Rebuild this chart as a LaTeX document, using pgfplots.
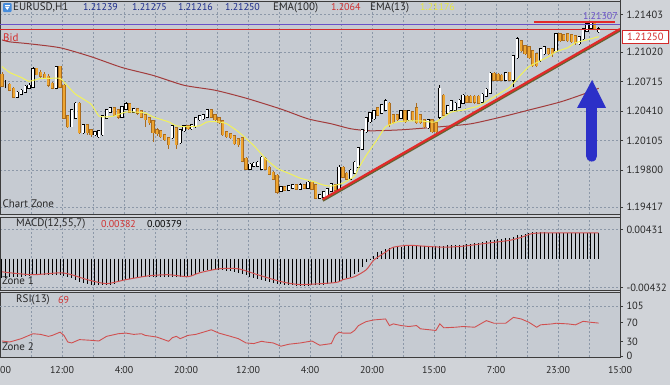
\documentclass[border=0pt]{standalone}
\usepackage{fontspec}
\setmainfont{PT Sans}
\usepackage{pgfplots}
\usepackage{pgfplotstable}
\pgfplotsset{compat=1.18}

\definecolor{bgc}{RGB}{198,203,210}
\definecolor{outerc}{RGB}{208,211,216}
\definecolor{gridc}{RGB}{140,152,168}
\definecolor{framec}{RGB}{60,60,60}
\definecolor{labelc}{RGB}{40,40,40}
\definecolor{orangeb}{RGB}{238,166,50}
\definecolor{orangeo}{RGB}{170,108,30}
\definecolor{emay}{RGB}{242,242,90}
\definecolor{emar}{RGB}{162,60,60}
\definecolor{bidred}{RGB}{212,42,42}
\definecolor{purp}{RGB}{106,82,200}
\definecolor{trendred}{RGB}{226,42,42}
\definecolor{olive}{RGB}{100,100,48}
\definecolor{arrowblue}{RGB}{44,48,200}
\definecolor{navy}{RGB}{28,44,140}
\definecolor{redtxt}{RGB}{208,48,48}
\definecolor{yeltxt}{RGB}{232,232,64}
\definecolor{macdred}{RGB}{208,80,80}
\definecolor{iconblue}{RGB}{70,140,220}

\newcommand{\lf}{\fontsize{10}{12}\selectfont}
\newcommand{\wf}{\fontsize{11}{13}\selectfont}
\newcommand{\tf}{\fontsize{10.5}{12}\selectfont}

\pgfplotstableread{
x o h l c
1 1.20685 1.20726 1.20644 1.20685
4 1.20563 1.20614 1.20542 1.20593
5 1.20593 1.20634 1.20573 1.20614
6 1.20614 1.20675 1.20593 1.20654
7 1.20654 1.20695 1.20634 1.20665
8 1.20665 1.20868 1.20644 1.20838
14 1.20654 1.20878 1.20634 1.20858
18 1.20257 1.20430 1.20247 1.20410
19 1.20349 1.20502 1.20329 1.20481
21 1.20196 1.20278 1.20176 1.20257
24 1.20176 1.20206 1.20155 1.20186
25 1.20155 1.20216 1.20135 1.20196
26 1.20176 1.20369 1.20155 1.20349
27 1.20349 1.20430 1.20329 1.20410
28 1.20410 1.20451 1.20390 1.20430
31 1.20359 1.20461 1.20339 1.20441
32 1.20441 1.20502 1.20420 1.20471
34 1.20410 1.20441 1.20390 1.20420
44 1.20145 1.20267 1.20125 1.20247
46 1.20094 1.20227 1.20074 1.20206
47 1.20216 1.20267 1.20196 1.20247
49 1.20237 1.20278 1.20216 1.20257
50 1.20257 1.20349 1.20237 1.20329
51 1.20329 1.20369 1.20308 1.20349
52 1.20339 1.20379 1.20318 1.20359
53 1.20359 1.20430 1.20339 1.20410
64 1.19819 1.19870 1.19799 1.19850
65 1.19850 1.19880 1.19829 1.19860
66 1.19850 1.19891 1.19829 1.19870
67 1.19819 1.19941 1.19799 1.19921
72 1.19595 1.19636 1.19575 1.19616
74 1.19605 1.19646 1.19585 1.19626
75 1.19626 1.19656 1.19605 1.19636
77 1.19616 1.19666 1.19595 1.19636
79 1.19626 1.19687 1.19605 1.19666
82 1.19524 1.19554 1.19504 1.19534
83 1.19534 1.19585 1.19514 1.19565
84 1.19534 1.19616 1.19514 1.19595
85 1.19595 1.19666 1.19575 1.19646
87 1.19616 1.19850 1.19595 1.19819
90 1.19717 1.19809 1.19697 1.19789
91 1.19779 1.19891 1.19758 1.19870
92 1.19840 1.20043 1.19819 1.20023
93 1.20023 1.20227 1.20003 1.20206
94 1.20206 1.20349 1.20186 1.20329
95 1.20308 1.20400 1.20288 1.20379
96 1.20339 1.20420 1.20318 1.20400
98 1.20400 1.20481 1.20379 1.20461
99 1.20430 1.20532 1.20410 1.20502
103 1.20349 1.20420 1.20329 1.20400
105 1.20329 1.20420 1.20308 1.20400
110 1.20247 1.20329 1.20227 1.20308
113 1.20359 1.20675 1.20329 1.20634
115 1.20400 1.20471 1.20379 1.20451
116 1.20430 1.20522 1.20410 1.20502
117 1.20430 1.20502 1.20410 1.20481
118 1.20461 1.20532 1.20441 1.20512
119 1.20502 1.20583 1.20481 1.20563
124 1.20512 1.20593 1.20491 1.20573
125 1.20573 1.20644 1.20553 1.20624
126 1.20604 1.20807 1.20583 1.20787
130 1.20736 1.20817 1.20716 1.20797
132 1.20736 1.20991 1.20654 1.20970
133 1.20970 1.21174 1.20950 1.21143
139 1.20940 1.21062 1.20919 1.21041
140 1.21011 1.21082 1.20991 1.21062
143 1.21041 1.21215 1.21021 1.21194
149 1.21113 1.21184 1.21092 1.21164
150 1.21164 1.21266 1.21143 1.21245
151 1.21245 1.21327 1.21225 1.21296
152 1.21276 1.21337 1.21255 1.21306
154 1.21239 1.21275 1.21216 1.21250
}\bull

\pgfplotstableread{
x o h l c
0 1.20777 1.20807 1.20654 1.20675
2 1.20675 1.20695 1.20614 1.20634
3 1.20634 1.20654 1.20542 1.20563
9 1.20838 1.20858 1.20777 1.20797
10 1.20797 1.20828 1.20746 1.20777
11 1.20777 1.20807 1.20736 1.20756
12 1.20756 1.20787 1.20654 1.20685
13 1.20685 1.20705 1.20634 1.20654
15 1.20858 1.20878 1.20644 1.20665
16 1.20665 1.20685 1.20329 1.20349
17 1.20349 1.20369 1.20237 1.20257
20 1.20481 1.20502 1.20176 1.20196
22 1.20257 1.20278 1.20165 1.20196
23 1.20206 1.20227 1.20145 1.20176
29 1.20430 1.20451 1.20359 1.20379
30 1.20410 1.20430 1.20329 1.20359
33 1.20471 1.20491 1.20390 1.20410
35 1.20420 1.20441 1.20369 1.20400
36 1.20400 1.20420 1.20339 1.20359
37 1.20359 1.20379 1.20247 1.20329
38 1.20329 1.20349 1.20267 1.20298
39 1.20298 1.20318 1.20094 1.20196
40 1.20206 1.20237 1.20155 1.20186
41 1.20196 1.20216 1.20135 1.20155
42 1.20155 1.20176 1.20104 1.20125
43 1.20125 1.20145 1.20023 1.20074
45 1.20227 1.20247 1.20023 1.20074
48 1.20247 1.20267 1.20216 1.20237
54 1.20410 1.20430 1.20339 1.20359
55 1.20359 1.20379 1.20308 1.20329
56 1.20329 1.20349 1.20278 1.20298
57 1.20298 1.20318 1.20155 1.20176
58 1.20186 1.20206 1.20135 1.20155
59 1.20165 1.20186 1.20125 1.20145
60 1.20145 1.20165 1.20064 1.20084
61 1.20115 1.20135 1.20043 1.20074
62 1.20125 1.20145 1.19880 1.19901
63 1.19911 1.19931 1.19799 1.19819
68 1.19911 1.19931 1.19799 1.19819
69 1.19819 1.19840 1.19748 1.19768
70 1.19768 1.19789 1.19697 1.19717
71 1.19738 1.19758 1.19554 1.19585
73 1.19616 1.19636 1.19585 1.19605
76 1.19636 1.19656 1.19595 1.19616
78 1.19636 1.19656 1.19605 1.19626
80 1.19666 1.19687 1.19595 1.19616
81 1.19636 1.19656 1.19504 1.19524
86 1.19636 1.19656 1.19585 1.19605
88 1.19819 1.19840 1.19717 1.19738
89 1.19758 1.19779 1.19697 1.19717
97 1.20430 1.20451 1.20359 1.20379
100 1.20481 1.20502 1.20247 1.20278
101 1.20359 1.20379 1.20278 1.20298
102 1.20359 1.20379 1.20308 1.20329
104 1.20400 1.20420 1.20288 1.20308
106 1.20390 1.20410 1.20308 1.20329
107 1.20430 1.20491 1.20278 1.20298
108 1.20359 1.20379 1.20278 1.20298
109 1.20308 1.20329 1.20237 1.20257
111 1.20308 1.20329 1.20186 1.20206
112 1.20278 1.20298 1.20176 1.20206
114 1.20563 1.20583 1.20359 1.20379
120 1.20553 1.20573 1.20491 1.20512
121 1.20553 1.20573 1.20491 1.20512
122 1.20553 1.20573 1.20481 1.20512
123 1.20553 1.20573 1.20481 1.20502
127 1.20787 1.20807 1.20716 1.20736
128 1.20777 1.20797 1.20716 1.20736
129 1.20766 1.20787 1.20716 1.20736
131 1.20797 1.20817 1.20716 1.20736
134 1.21123 1.21143 1.21021 1.21041
135 1.21072 1.21092 1.20991 1.21011
136 1.21062 1.21082 1.20950 1.20970
137 1.21021 1.21041 1.20868 1.20889
138 1.20991 1.21011 1.20868 1.20889
141 1.21041 1.21062 1.20991 1.21011
142 1.21041 1.21062 1.20970 1.21011
144 1.21194 1.21215 1.21123 1.21143
145 1.21184 1.21204 1.21133 1.21153
146 1.21194 1.21215 1.21123 1.21143
147 1.21184 1.21204 1.21113 1.21133
148 1.21174 1.21194 1.21092 1.21123
153 1.21306 1.21327 1.21245 1.21266
}\bear

\pgfplotsset{
  panel/.style={
    scale only axis, width=620bp,
    xmin=-0.5, xmax=159.5,
    xtick={-0.5,7.5,15.5,23.5,31.5,39.5,47.5,55.5,63.5,71.5,79.5,87.5,95.5,103.5,111.5,119.5,127.5,135.5,143.5,151.5,159.5},
    xmajorgrids,
    grid style={gridc, line width=0.5bp, dash pattern=on 2bp off 2bp},
    axis background/.style={fill=bgc},
    axis line style={draw=framec, line width=1bp},
    ytick pos=right, yticklabel pos=right,
    tick align=outside, major tick length=3bp,
    ytick style={draw=framec, line width=0.6bp},
    xtick style={draw=none},
    yticklabel style={font=\tf, text=labelc},
    xticklabel style={font=\lf, text=labelc},
    scaled y ticks=false, scaled x ticks=false,
  },
  nomark/.style={forget plot, only marks, mark=*, mark size=0pt,
    mark options={draw opacity=0, fill opacity=0}},
  wick/.style={nomark,
    error bars/.cd, y dir=both, y explicit, error mark=none,
    error bar style={draw=#1, line width=0.8bp}},
  body/.style 2 args={nomark,
    error bars/.cd, y dir=both, y explicit, error mark=none,
    error bar style={draw=#1, line width=#2, line cap=rect}},
}

\begin{document}
\begin{tikzpicture}
\fill[outerc] (0bp,0bp) rectangle (670bp,-385bp);
\useasboundingbox (0bp,0bp) rectangle (670bp,-385bp);

% ---------------- main price panel ----------------
\begin{axis}[panel, at={(0bp,-1bp)}, anchor=north west, height=213bp,
  ymin=1.19348, ymax=1.21544, ymajorgrids,
  ytick={1.19417,1.19800,1.20105,1.20410,1.20715,1.21020,1.21403},
  yticklabels={1.19417,1.19800,1.20105,1.20410,1.20715,1.21020,1.21403},
  xticklabels={}]
% EMA(100)
\addplot[emar, line width=1bp, smooth, tension=0.4] coordinates {
(0,1.21143) (2,1.21123) (7,1.21103) (15,1.21062) (23,1.20970) (31,1.20858)
(39,1.20777) (47,1.20675) (55,1.20624) (63,1.20542) (72,1.20430) (79,1.20329)
(85,1.20278) (90,1.20227) (95,1.20206) (103,1.20216) (113,1.20247) (121,1.20278)
(129,1.20349) (136,1.20420) (144,1.20502) (150,1.20583) (154,1.20644)};
% candles: wicks
\addplot[wick=black] table[x=x, y=l, y error plus expr=\thisrow{h}-\thisrow{l}, y error minus expr=0] {\bull};
\addplot[wick=orangeo] table[x=x, y=l, y error plus expr=\thisrow{h}-\thisrow{l}, y error minus expr=0] {\bear};
% bodies
\addplot[body={black}{3.2bp}] table[x=x, y=o, y error plus expr=\thisrow{c}-\thisrow{o}, y error minus expr=0] {\bull};
\addplot[body={white}{1.9bp}] table[x=x, y=o, y error plus expr=\thisrow{c}-\thisrow{o}, y error minus expr=0] {\bull};
\addplot[body={orangeo}{3.2bp}] table[x=x, y=c, y error plus expr=\thisrow{o}-\thisrow{c}, y error minus expr=0] {\bear};
\addplot[body={orangeb}{2.1bp}] table[x=x, y=c, y error plus expr=\thisrow{o}-\thisrow{c}, y error minus expr=0] {\bear};
% EMA(13)
\addplot[emay, line width=1bp, smooth, tension=0.3] coordinates {
(0,1.20868) (2,1.20807) (5,1.20756) (7,1.20716) (10,1.20746) (12,1.20746) (15,1.20746)
(17,1.20665) (19,1.20583) (23,1.20481) (25,1.20359) (27,1.20349) (29,1.20359) (32,1.20400)
(34,1.20400) (37,1.20390) (39,1.20349) (43,1.20298) (45,1.20257) (48,1.20247) (51,1.20257)
(53,1.20298) (56,1.20298) (58,1.20278) (61,1.20196) (65,1.20053) (68,1.19921) (71,1.19819)
(74,1.19768) (77,1.19717) (80,1.19687) (83,1.19646) (85,1.19636) (88,1.19666) (91,1.19738)
(92,1.19819) (94,1.19952) (97,1.20125) (99,1.20247) (102,1.20298) (105,1.20308) (108,1.20308)
(110,1.20298) (112,1.20298) (114,1.20349) (116,1.20400) (119,1.20420) (121,1.20441)
(123,1.20461) (126,1.20532) (129,1.20604) (131,1.20654) (134,1.20787) (136,1.20868)
(138,1.20909) (141,1.20970) (143,1.21021) (146,1.21062) (148,1.21113) (151,1.21143) (154,1.21176)};
% horizontal price lines
\addplot[purp, line width=0.9bp] coordinates {(-0.5,1.21307) (159.5,1.21307)};
\addplot[bidred, line width=0.9bp] coordinates {(-0.5,1.21250) (159.5,1.21250)};
\addplot[trendred, line width=2bp] coordinates {(137.3,1.21330) (158.2,1.21330)};
% trend line
\addplot[olive, line width=2.6bp, yshift=-1.2bp] coordinates {(82.8,1.19500) (159.5,1.21255)};
\addplot[trendred, line width=2.2bp] coordinates {(82.8,1.19500) (159.5,1.21255)};
% arrow
\fill[arrowblue] (axis cs:148.4,1.20441) -- (axis cs:152.3,1.20730) -- (axis cs:155.9,1.20441) -- cycle;
\draw[arrowblue, line width=11bp, line cap=round] (axis cs:152.2,1.20450) -- (axis cs:152.2,1.19945);
\end{axis}

% ---------------- MACD panel ----------------
\begin{axis}[panel, at={(0bp,-217bp)}, anchor=north west, height=73bp,
  ymin=-0.00468, ymax=0.00617, ymajorgrids,
  ytick={-0.00432,0.00431}, yticklabels={-0.00432,0.00431},
  xticklabels={}]
\addplot[ycomb, black, line width=0.9bp] coordinates {
(0,-0.00285) (1,-0.00285) (2,-0.00278) (3,-0.00270) (4,-0.00270) (5,-0.00270) (6,-0.00256) (7,-0.00256)
(8,-0.00241) (9,-0.00241) (10,-0.00241) (11,-0.00241) (12,-0.00241) (13,-0.00241) (14,-0.00241) (15,-0.00241)
(16,-0.00256) (17,-0.00270) (18,-0.00285) (19,-0.00314) (20,-0.00343) (21,-0.00358) (22,-0.00373)
(23,-0.00387) (24,-0.00387) (25,-0.00387) (26,-0.00387) (27,-0.00387) (28,-0.00387) (29,-0.00373)
(30,-0.00343) (31,-0.00329) (32,-0.00314) (33,-0.00300) (34,-0.00285) (35,-0.00285)
(36,-0.00270) (37,-0.00270) (38,-0.00270) (39,-0.00270) (40,-0.00270) (41,-0.00270) (42,-0.00270)
(43,-0.00270) (44,-0.00270) (45,-0.00270) (46,-0.00270) (47,-0.00270) (48,-0.00270) (49,-0.00256)
(50,-0.00226) (51,-0.00197) (52,-0.00183) (53,-0.00168) (54,-0.00168) (55,-0.00168) (56,-0.00168)
(57,-0.00168) (58,-0.00183) (59,-0.00183) (60,-0.00197) (61,-0.00212) (62,-0.00226) (63,-0.00241)
(64,-0.00270) (65,-0.00285) (66,-0.00300) (67,-0.00314) (68,-0.00329) (69,-0.00343) (70,-0.00358)
(71,-0.00373) (72,-0.00373) (73,-0.00387) (74,-0.00387) (75,-0.00387) (76,-0.00402) (77,-0.00402)
(78,-0.00402) (79,-0.00402) (80,-0.00387) (81,-0.00387) (82,-0.00387) (83,-0.00387) (84,-0.00373)
(85,-0.00358) (86,-0.00358) (87,-0.00343) (88,-0.00314) (89,-0.00285) (90,-0.00270) (91,-0.00226)
(92,-0.00197) (93,-0.00124) (94,-0.00051) (95,-0.00007) (96,0.00037) (97,0.00095) (98,0.00110)
(99,0.00139) (100,0.00153) (101,0.00168) (102,0.00168) (103,0.00168) (104,0.00183) (105,0.00183)
(106,0.00183) (107,0.00183) (108,0.00183) (109,0.00183) (110,0.00183) (111,0.00183) (112,0.00183)
(113,0.00183) (114,0.00183) (115,0.00197) (116,0.00197) (117,0.00197) (118,0.00197) (119,0.00197)
(120,0.00212) (121,0.00212) (122,0.00226) (123,0.00226) (124,0.00241) (125,0.00256) (126,0.00270)
(127,0.00270) (128,0.00285) (129,0.00285) (130,0.00300) (131,0.00300) (132,0.00314) (133,0.00343)
(134,0.00343) (135,0.00358) (136,0.00373) (137,0.00387) (138,0.00387) (139,0.00387) (140,0.00387)
(141,0.00379) (142,0.00379) (143,0.00379) (144,0.00379) (145,0.00379) (146,0.00379) (147,0.00379)
(148,0.00379) (149,0.00379) (150,0.00379) (151,0.00379) (152,0.00379) (153,0.00379) (154,0.00379)};
\addplot[macdred, line width=1bp, smooth, tension=0.4] coordinates {
(0,-0.00197) (2,-0.00212) (8,-0.00241) (15,-0.00212) (18,-0.00241) (22,-0.00314) (27,-0.00373)
(32,-0.00314) (38,-0.00256) (43,-0.00241) (48,-0.00270) (51,-0.00212) (56,-0.00153) (61,-0.00153)
(66,-0.00241) (72,-0.00343) (77,-0.00387) (86,-0.00358) (88,-0.00314) (91,-0.00270) (94,-0.00168)
(96,-0.00022) (99,0.00095) (101,0.00168) (105,0.00197) (109,0.00183) (114,0.00168) (119,0.00183)
(123,0.00212) (127,0.00241) (131,0.00270) (134,0.00314) (137,0.00373) (142,0.00382) (154,0.00382)};
\end{axis}

% ---------------- RSI panel ----------------
\begin{axis}[panel, at={(0bp,-292bp)}, anchor=north west, height=65bp,
  ymin=-2, ymax=134,
  ytick={0,30,70,105}, yticklabels={0,30,70,105},
  xticklabels={,,12:00,,4:00,,20:00,,12:00,,4:00,,20:00,,15:00,,7:00,,23:00,,15:00},
  xticklabel style={yshift=-3bp}]
\draw[gridc, line width=0.5bp, dash pattern=on 2bp off 2bp] (axis cs:-0.5,105) -- (axis cs:159.5,105);
\addplot[macdred, line width=0.9bp] coordinates {
(0,31.5) (2,29.4) (5,36.4) (8,46.7) (10,45.3) (12,41.2) (13,43.2) (15,50.0) (16,43.2) (17,29.4)
(18,27.4) (20,34.4) (23,32.9) (25,31.5) (27,41.2) (30,46.7) (32,48.0) (34,45.3) (36,46.7) (37,43.2)
(40,39.7) (43,30.9) (44,38.5) (45,41.2) (46,36.4) (48,43.2) (50,45.3) (52,50.0) (54,55.0) (56,48.0)
(59,41.2) (61,36.4) (63,27.4) (65,26.1) (67,30.9) (68,29.4) (70,27.4) (72,20.6) (74,24.7) (77,27.4)
(80,31.5) (82,22.6) (85,26.1) (86,43.2) (87,50.0) (88,48.0) (90,48.0) (91,53.5) (92,63.8) (94,72.1)
(96,75.6) (99,77.6) (100,63.8) (101,67.3) (103,63.8) (105,61.8) (107,63.8) (108,57.0) (112,53.5)
(113,67.3) (114,59.1) (117,60.3) (119,61.8) (122,60.3) (125,74.1) (127,68.6) (130,68.6) (132,80.9)
(134,77.6) (136,70.6) (138,60.3) (139,65.3) (142,67.3) (143,68.6) (146,67.3) (148,65.3) (150,72.7)
(152,70.6) (154,69)};
\end{axis}

% right axis line
\draw[framec, line width=1bp] (620bp,0bp) -- (620bp,-357.5bp);

% ---------------- texts ----------------
\fill[iconblue, rounded corners=1bp] (3bp,-3bp) rectangle (11.5bp,-12bp);
\fill[white] (4.8bp,-6.5bp) -- (9.7bp,-6.5bp) -- (7.25bp,-10bp) -- cycle;
\draw[white, line width=0.8bp] (4.8bp,-5bp) -- (9.7bp,-5bp);
\begin{scope}[every node/.style={anchor=west, inner sep=0pt, font=\lf}]
\node[text=labelc, font=\wf] at (13bp,-7.5bp) {EURUSD,H1};
\node[text=navy] at (83bp,-7.5bp) {1.21239};
\node[text=navy] at (132bp,-7.5bp) {1.21275};
\node[text=navy] at (178bp,-7.5bp) {1.21216};
\node[text=navy] at (225bp,-7.5bp) {1.21250};
\node[text=labelc, font=\wf] at (273bp,-7.5bp) {EMA(100)};
\node[text=redtxt] at (331bp,-7.5bp) {1.2064};
\node[text=labelc, font=\wf] at (370bp,-7.5bp) {EMA(13)};
\node[text=yeltxt] at (420bp,-7.5bp) {1.21176};
\node[text=bidred, font=\wf] at (3bp,-37.5bp) {Bid};
\node[text=labelc, font=\wf] at (2.5bp,-204bp) {Chart Zone};
\node[text=labelc, font=\wf] at (16bp,-224bp) {MACD(12,55,7)};
\node[text=redtxt] at (101bp,-224bp) {0.00382};
\node[text=black] at (147bp,-224bp) {0.00379};
\node[text=labelc, font=\wf] at (2bp,-281bp) {Zone 1};
\node[text=labelc, font=\wf] at (16bp,-300bp) {RSI(13)};
\node[text=redtxt] at (58bp,-300bp) {69};
\node[text=labelc, font=\wf] at (2bp,-347bp) {Zone 2};
\node[text=labelc] at (0bp,-370bp) {00};
\end{scope}
\begin{scope}
\clip (560bp,-12.5bp) rectangle (619bp,-30bp);
\node[anchor=east, inner sep=0pt, font=\lf, text=purp] at (618bp,-16bp) {1.21307};
\end{scope}
\node[draw=bidred, fill=white, text=bidred, font=\tf, line width=0.8bp, minimum width=46bp, minimum height=13bp, inner sep=0pt, anchor=west] at (622bp,-36.5bp) {1.21250};
\end{tikzpicture}
\end{document}
